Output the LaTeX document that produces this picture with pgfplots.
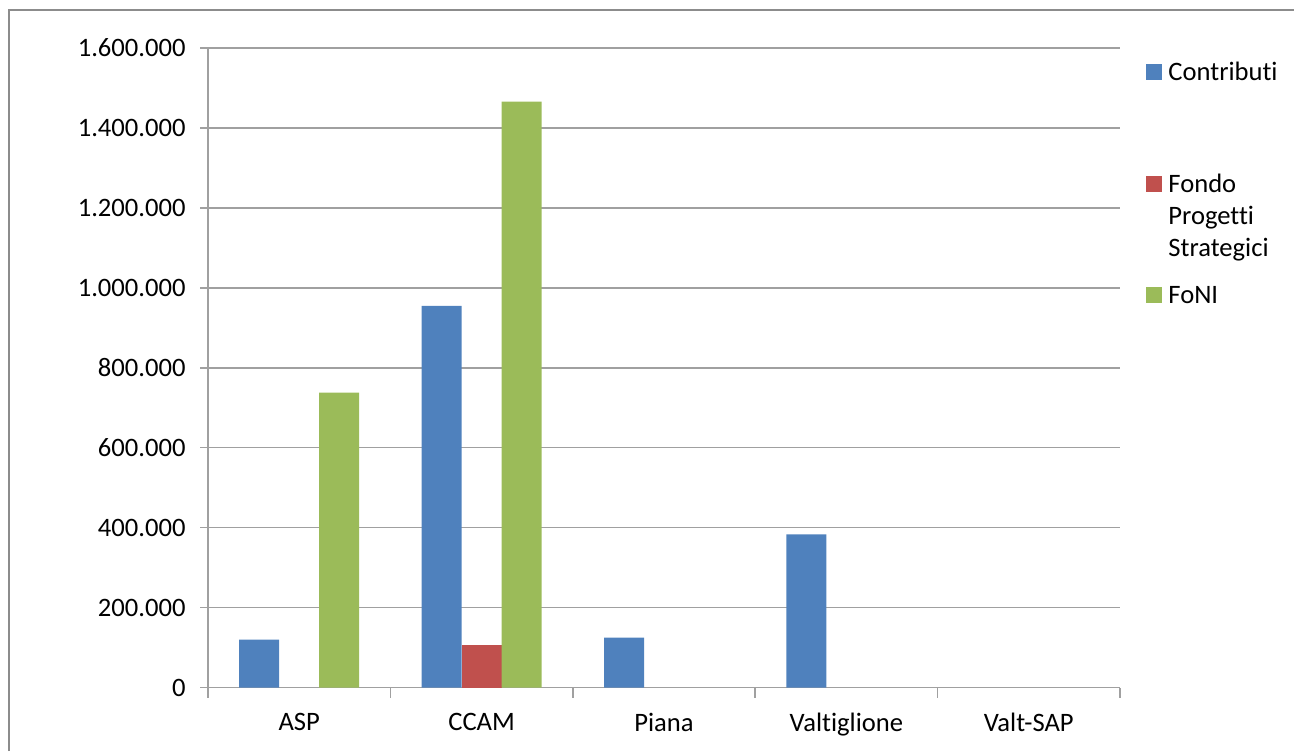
\documentclass[border=0pt]{standalone}
\usepackage{pgfplots}
\pgfplotsset{compat=1.18}
\usepackage{fontspec}
\setmainfont{Carlito}[Ligatures={NoCommon,NoContextual}, RawFeature={-liga;-clig;-dlig}]

\definecolor{xlblue}{HTML}{4F81BD}
\definecolor{xlred}{HTML}{C0504D}
\definecolor{xlgreen}{HTML}{9BBB59}
\definecolor{xlgrid}{HTML}{A0A0A0}
\definecolor{xlframe}{HTML}{8C8C8C}

\newcommand{\lbl}{\fontsize{13.3}{16}\selectfont}

\begin{document}
\begin{tikzpicture}
    \useasboundingbox (0,0) rectangle (647pt,375.5pt);
%   chart frame (only top and left visible)
    \draw[xlframe, line width=1pt] (4.5pt,0) -- (4.5pt,370.5pt) -- (647pt,370.5pt);

    \begin{axis}[
        at={(104pt,31.75pt)}, anchor=south west,
        scale only axis,
        width=456pt, height=319.75pt,
        ybar, bar width=20pt,
        xmin=-0.5, xmax=4.5,
        ymin=0, ymax=1600000,
        xtick={0,1,2,3,4},
        xticklabels={ASP, CCAM, Piana, Valtiglione, Valt-SAP},
        minor xtick={-0.5,0.5,1.5,2.5,3.5,4.5},
        ytick={0,200000,...,1600000},
        scaled y ticks=false,
        tick align=outside,
        major tick length=4pt,
        minor tick length=5pt,
        every major x tick/.append style={draw=none},
        tick style={xlgrid, line width=0.75pt},
        axis x line*=bottom, axis y line*=left,
        axis line style={xlgrid, line width=0.75pt, -},
        ymajorgrids=true,
        grid style={xlgrid, line width=0.75pt},
        ticklabel style={font=\lbl, inner sep=0pt},
        xticklabel style={yshift=-8.5pt},
        yticklabel style={xshift=-7pt, /pgf/number format/.cd, fixed, precision=0, set thousands separator={.}, assume math mode=true},
    ]
%       Contributi
        \addplot[fill=xlblue, draw=none, bar shift=-20pt] coordinates {
            (0,120000) (1,955000) (2,125000) (3,383000)
        };
%       Fondo Progetti Strategici
        \addplot[fill=xlred, draw=none, bar shift=0pt] coordinates {
            (1,107500)
        };
%       FoNI
        \addplot[fill=xlgreen, draw=none, bar shift=20pt] coordinates {
            (0,738000) (1,1466000)
        };
    \end{axis}

%   legend
    \fill[xlblue] (573pt,335.5pt) rectangle (581pt,343.5pt);
    \node[font=\lbl, inner sep=0pt, anchor=base west] at (584pt,335.2pt) {Contributi};
    \fill[xlred] (573pt,279.5pt) rectangle (581pt,287.5pt);
    \node[font=\lbl, inner sep=0pt, anchor=base west] at (584pt,279.2pt) {Fondo};
    \node[font=\lbl, inner sep=0pt, anchor=base west] at (584pt,263.2pt) {Progetti};
    \node[font=\lbl, inner sep=0pt, anchor=base west] at (584pt,247.2pt) {Strategici};
    \fill[xlgreen] (573pt,224pt) rectangle (581pt,232pt);
    \node[font=\lbl, inner sep=0pt, anchor=base west] at (584pt,223.7pt) {FoNI};
\end{tikzpicture}
\end{document}
